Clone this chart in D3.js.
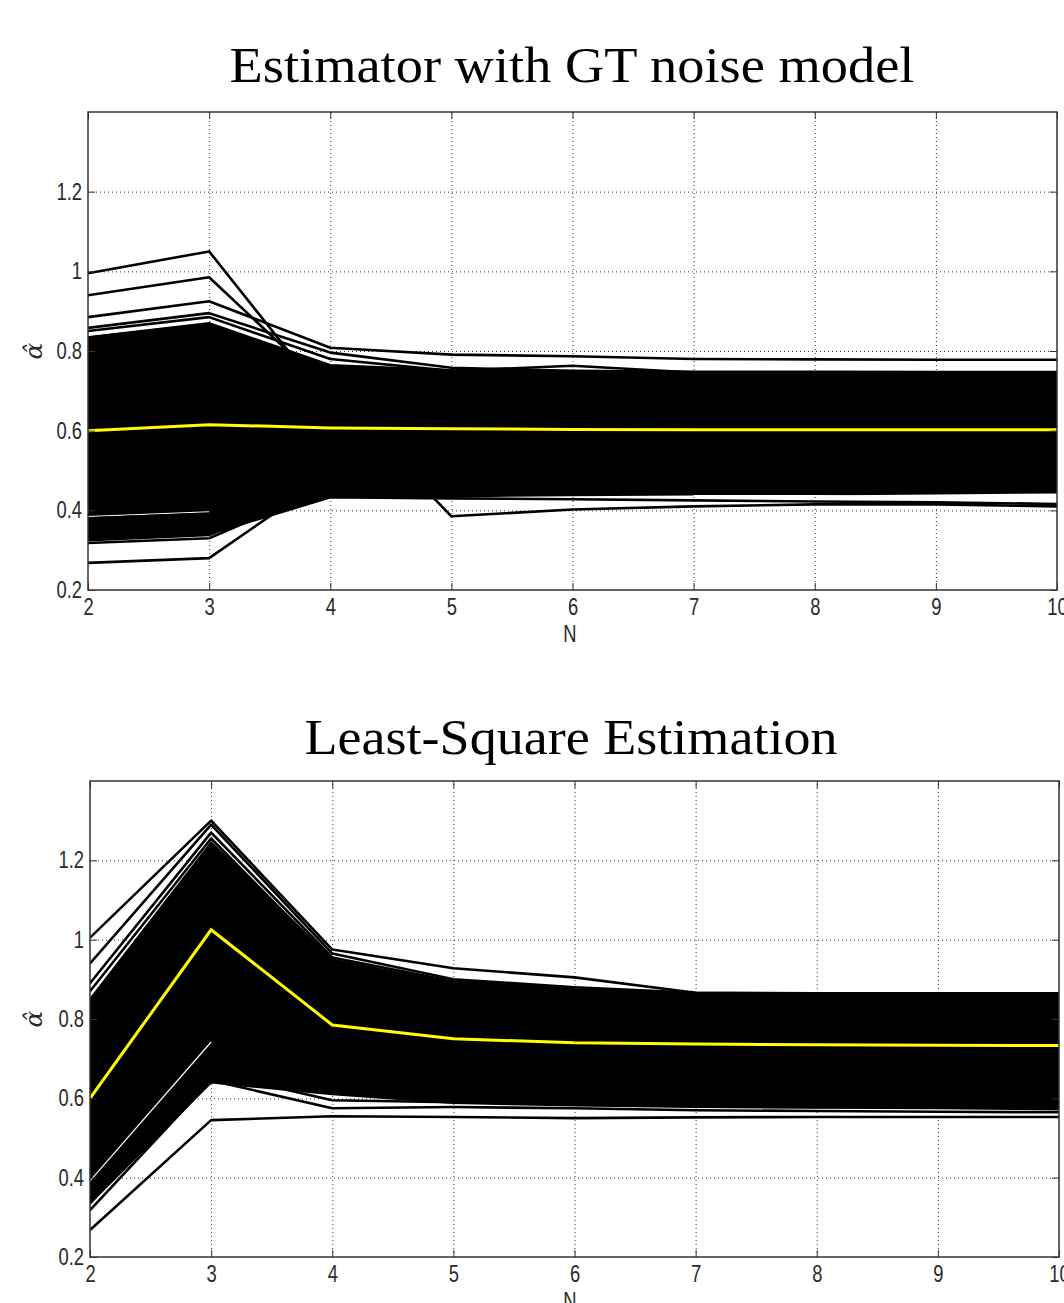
<!DOCTYPE html>
<html>
<head>
  <meta charset="utf-8">
  <title>Estimator comparison</title>
  <script src="https://cdn.jsdelivr.net/npm/d3@7"></script>
  <style>
  body { margin: 0; background: #fff; }
  .title {
    font-family: "Liberation Serif", "Times New Roman", serif;
    font-size: 50px;
    fill: #000;
    text-anchor: middle;
  }
  .tick-label {
    font-family: "Liberation Sans", Arial, sans-serif;
    font-size: 23px;
    fill: #2a2a2a;
  }
  .grid line {
    stroke: #333;
    stroke-width: 1px;
    stroke-dasharray: 1,3;
  }
  .grid path { display: none; }
  .frame {
    fill: none;
    stroke: #333;
    stroke-width: 1.5px;
  }
  .band { fill: #000; stroke: #000; stroke-width: 2px; }
  .trial {
    fill: none;
    stroke: #000;
    stroke-width: 2.6px;
    stroke-linejoin: round;
  }
  .gap {
    fill: none;
    stroke: #fff;
    stroke-width: 1.2px;
  }
  .mean {
    fill: none;
    stroke: #ffff00;
    stroke-width: 3px;
  }
  </style>
</head>
<body>
  <svg id="chart" width="1064" height="1303"></svg>
  <script>
  // number of measurements on the x axis
  var N = [2, 3, 4, 5, 6, 7, 8, 9, 10];
  var yTicks = [0.2, 0.4, 0.6, 0.8, 1, 1.2];

  // --- panel 1: estimator with GT noise model ---
  var gtMean     = [0.600, 0.615, 0.607, 0.605, 0.603, 0.602, 0.602, 0.602, 0.602];
  var gtBandHigh = [0.835, 0.870, 0.765, 0.752, 0.748, 0.746, 0.746, 0.745, 0.745];
  var gtBandLow  = [0.330, 0.340, 0.432, 0.435, 0.438, 0.440, 0.440, 0.442, 0.445];
  var gtTrials = [
    [0.995, 1.050, 0.668, 0.650, 0.650, 0.650, 0.650, 0.650, 0.650],
    [0.940, 0.985, 0.700, 0.680, 0.680, 0.680, 0.680, 0.680, 0.680],
    [0.885, 0.925, 0.808, 0.791, 0.787, 0.780, 0.779, 0.778, 0.778],
    [0.858, 0.895, 0.796, 0.758, 0.750, 0.748, 0.748, 0.747, 0.747],
    [0.850, 0.885, 0.780, 0.750, 0.763, 0.746, 0.746, 0.746, 0.746],
    [0.380, 0.392, 0.440, 0.445, 0.450, 0.450, 0.450, 0.450, 0.450],
    [0.325, 0.338, 0.470, 0.470, 0.470, 0.470, 0.470, 0.470, 0.470],
    [0.318, 0.330, 0.460, 0.460, 0.460, 0.460, 0.460, 0.460, 0.460],
    [0.268, 0.280, 0.490, 0.500, 0.500, 0.500, 0.500, 0.500, 0.500],
    [0.550, 0.550, 0.700, 0.385, 0.402, 0.410, 0.415, 0.415, 0.410],
    [0.450, 0.450, 0.433, 0.430, 0.428, 0.425, 0.422, 0.420, 0.416]
  ];
  // thin white gaps visible between the trial lines
  var gtGaps = [
    [0.840, 0.876, null, null, null, null, null, null, null],
    [0.384, 0.396, null, null, null, null, null, null, null],
    [null, null, null, null, null, 0.437, 0.437, 0.433, 0.433]
  ];

  // --- panel 2: least-square estimation ---
  var lsMean     = [0.600, 1.025, 0.785, 0.750, 0.740, 0.737, 0.735, 0.734, 0.733];
  var lsBandHigh = [0.850, 1.245, 0.950, 0.890, 0.870, 0.863, 0.862, 0.862, 0.862];
  var lsBandLow  = [0.335, 0.640, 0.610, 0.588, 0.582, 0.578, 0.576, 0.575, 0.572];
  var lsTrials = [
    [1.005, 1.300, 0.975, 0.928, 0.905, 0.866, 0.865, 0.865, 0.865],
    [0.940, 1.290, 0.965, 0.900, 0.880, 0.866, 0.864, 0.864, 0.864],
    [0.890, 1.270, 0.955, 0.895, 0.875, 0.864, 0.863, 0.863, 0.863],
    [0.870, 1.255, 0.945, 0.890, 0.872, 0.863, 0.862, 0.862, 0.862],
    [0.335, 0.665, 0.595, 0.590, 0.585, 0.580, 0.578, 0.578, 0.575],
    [0.318, 0.645, 0.575, 0.578, 0.575, 0.570, 0.568, 0.566, 0.565],
    [0.268, 0.545, 0.555, 0.553, 0.550, 0.552, 0.553, 0.553, 0.553]
  ];
  var lsGaps = [
    [0.392, 0.742, null, null, null, null, null, null, null],
    [0.865, 1.262, null, null, null, null, null, null, null],
    [null, null, null, null, null, 0.560, 0.560, 0.562, 0.562]
  ];

  var svg = d3.select("#chart");
  var squeeze = 0.8; // tick labels are a narrow face

  function drawPanel(opt) {
    var x = d3.scaleLinear().domain([2, 10]).range([opt.left, opt.right]);
    var y = d3.scaleLinear().domain([0.2, 1.4]).range([opt.bottom, opt.top]);
    var w = opt.right - opt.left, h = opt.bottom - opt.top;
    var g = svg.append("g");

    // title
    g.append("text")
      .attr("class", "title")
      .attr("x", opt.titleX)
      .attr("y", opt.titleY)
      .attr("textLength", opt.titleWidth)
      .attr("lengthAdjust", "spacingAndGlyphs")
      .text(opt.title);

    // dotted grid
    g.append("g")
      .attr("class", "grid")
      .attr("transform", "translate(0," + opt.bottom + ")")
      .call(d3.axisBottom(x).tickValues(N.slice(1, -1)).tickSize(-h).tickFormat(""));
    g.append("g")
      .attr("class", "grid")
      .attr("transform", "translate(" + opt.left + ",0)")
      .call(d3.axisLeft(y).tickValues(yTicks.slice(1)).tickSize(-w).tickFormat(""));

    var clip = "clip" + opt.id;
    g.append("clipPath").attr("id", clip)
      .append("rect").attr("x", opt.left).attr("y", opt.top).attr("width", w).attr("height", h);
    var plot = g.append("g").attr("clip-path", "url(#" + clip + ")");

    // dense band of trials
    var area = d3.area()
      .x(function(d, i) { return x(N[i]); })
      .y0(function(d, i) { return y(opt.low[i]); })
      .y1(function(d) { return y(d); });
    plot.append("path").datum(opt.high).attr("class", "band").attr("d", area);

    var line = d3.line()
      .defined(function(d) { return d != null; })
      .x(function(d, i) { return x(N[i]); })
      .y(function(d) { return y(d); });

    plot.selectAll("path.gap")
      .data(opt.gaps)
      .enter().append("path")
      .attr("class", "gap")
      .attr("d", line);

    plot.selectAll("path.trial")
      .data(opt.trials)
      .enter().append("path")
      .attr("class", "trial")
      .attr("d", line);

    plot.append("path").datum(opt.mean).attr("class", "mean").attr("d", line);

    // frame and inward ticks
    g.append("rect").attr("class", "frame")
      .attr("x", opt.left).attr("y", opt.top).attr("width", w).attr("height", h);

    var axB = g.append("g").attr("transform", "translate(0," + opt.bottom + ")")
      .call(d3.axisBottom(x).tickValues(N).tickSizeInner(-7).tickSizeOuter(0).tickPadding(9).tickFormat(d3.format("d")));
    var axL = g.append("g").attr("transform", "translate(" + opt.left + ",0)")
      .call(d3.axisLeft(y).tickValues(yTicks).tickSizeInner(-7).tickSizeOuter(0)
        .tickFormat(function(d) { return d === 1 ? "1" : d3.format(".1f")(d); }));
    g.append("g").attr("transform", "translate(" + opt.right + ",0)")
      .call(d3.axisRight(y).tickValues(yTicks).tickSizeInner(-7).tickSizeOuter(0).tickFormat(""));
    g.append("g").attr("transform", "translate(0," + opt.top + ")")
      .call(d3.axisTop(x).tickValues(N).tickSizeInner(-7).tickSizeOuter(0).tickFormat(""));
    g.selectAll(".domain").remove();
    g.selectAll(".tick line").attr("stroke", "#333");
    axB.selectAll("text").attr("class", "tick-label").attr("fill", null)
      .attr("transform", "scale(" + squeeze + ",1)");
    axL.selectAll("text").attr("class", "tick-label").attr("fill", null)
      .attr("x", -6 / squeeze)
      .attr("transform", "scale(" + squeeze + ",1)");

    // axis labels
    g.append("text")
      .attr("class", "tick-label")
      .attr("transform", "translate(" + 570 + "," + (opt.bottom + 52) + ") scale(" + squeeze + ",1)")
      .attr("text-anchor", "middle")
      .text("N");
    g.append("text")
      .attr("class", "tick-label")
      .attr("transform", "translate(" + 42 + "," + y(0.8) + ") rotate(-90)")
      .attr("text-anchor", "middle")
      .style("font-family", "'DejaVu Serif', serif")
      .style("font-style", "italic")
      .style("font-size", "25px")
      .text("\u03B1\u0302");
  }

  drawPanel({
    id: 1, title: "Estimator with GT noise model", titleX: 572, titleY: 82, titleWidth: 685,
    left: 88, right: 1057, top: 112, bottom: 590,
    mean: gtMean, high: gtBandHigh, low: gtBandLow, trials: gtTrials, gaps: gtGaps
  });

  drawPanel({
    id: 2, title: "Least-Square Estimation", titleX: 571, titleY: 754, titleWidth: 533,
    left: 90, right: 1059, top: 781, bottom: 1257,
    mean: lsMean, high: lsBandHigh, low: lsBandLow, trials: lsTrials, gaps: lsGaps
  });
  </script>
</body>
</html>
